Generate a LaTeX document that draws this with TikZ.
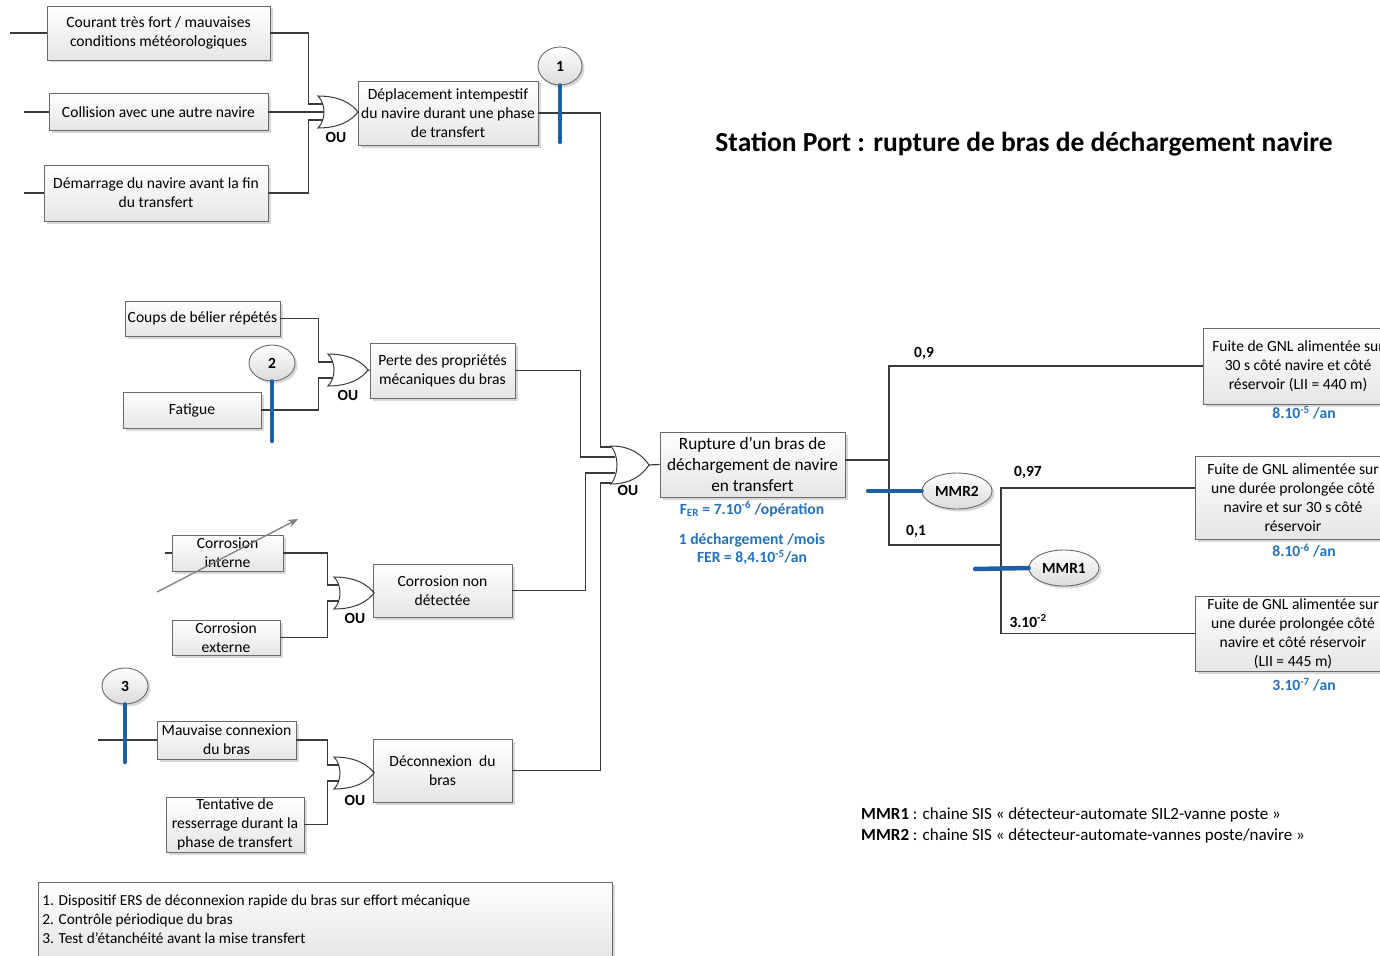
\documentclass[tikz,border=0pt]{standalone}
\usepackage{fontspec}
\setmainfont{Carlito}
\usetikzlibrary{shapes.geometric,shadows,arrows.meta}

\definecolor{wirec}{HTML}{3A3A3A}
\definecolor{boxline}{HTML}{6A6A6A}
\definecolor{barblue}{HTML}{1F5FA5}
\definecolor{txtblue}{HTML}{2671B8}

\tikzset{
  wire/.style={draw=wirec, line width=1.2pt},
  softshadow/.style={drop shadow={shadow xshift=2.5pt, shadow yshift=-2.5pt, fill=black!35, opacity=0.45}},
  ev/.style={draw=boxline, line width=0.9pt, top color=white, bottom color=black!10,
    softshadow, align=center, inner sep=0pt, font=\fontsize{15.6}{19}\selectfont},
  disc/.style={ellipse, draw=boxline, line width=0.9pt, top color=white, bottom color=black!14,
    softshadow, inner sep=0pt, font=\fontsize{15.5}{18}\selectfont\bfseries},
  gatest/.style={draw=wirec, fill=white, line width=1pt},
  barrier/.style={draw=barblue, line width=4.5pt, line cap=round},
  oulbl/.style={font=\fontsize{15.5}{18}\selectfont\bfseries, inner sep=0pt},
  lbl/.style={font=\fontsize{15.5}{18}\selectfont\bfseries, inner sep=0pt},
  blu/.style={text=txtblue, font=\fontsize{15.6}{18}\selectfont\bfseries, inner sep=0pt, align=center},
  % OR gate with three input points, 40 x 32
  orgate/.pic={
    \draw[gatest] (-20,-16) .. controls (2,-16) and (14,-8) .. (20,0)
      .. controls (14,8) and (2,16) .. (-20,16)
      .. controls (-12,8) and (-12,-8) .. (-20,-16) -- cycle;
    \coordinate (-in1) at (-15.2,-8);
    \coordinate (-in2) at (-14,0);
    \coordinate (-in3) at (-15.2,8);
    \coordinate (-out) at (20,0);
  },
  % OR gate with four input points, 38 x 38
  orgatefour/.pic={
    \draw[gatest] (-19,-19) .. controls (2,-19) and (13,-9) .. (19,0)
      .. controls (13,9) and (2,19) .. (-19,19)
      .. controls (-11,9) and (-11,-9) .. (-19,-19) -- cycle;
    \coordinate (-in1) at (-18.6,-18);
    \coordinate (-in2) at (-14.8,-8);
    \coordinate (-in3) at (-14.8,8);
    \coordinate (-in4) at (-18.6,18);
    \coordinate (-out) at (19,0);
  },
}

\begin{document}
\begin{tikzpicture}[x=1pt, y=-1pt]
\useasboundingbox (0,0) rectangle (1380,955);
\clip (0,0) rectangle (1380,955);

% ---------- title ----------
\node[font=\fontsize{27.5}{32}\selectfont\bfseries, inner sep=0pt] (title) at (1024,144)
  {Station Port : rupture de bras de déchargement navire};

% ---------- basic events and intermediate events ----------
\node[ev, minimum width=223, minimum height=54] (A) at (158.5,33) {Courant très fort / mauvaises\\conditions météorologiques};
\node[ev, minimum width=219, minimum height=37] (B) at (158.5,112) {Collision avec une autre navire};
\node[ev, minimum width=224, minimum height=56] (C) at (156,193) {Démarrage du navire avant la fin\\du transfert};
\node[ev, minimum width=180, minimum height=64] (D) at (448,113) {Déplacement intempestif\\du navire durant une phase\\de transfert};

\node[ev, minimum width=155, minimum height=35] (E) at (202.5,318.5) {Coups de bélier répétés};
\node[ev, minimum width=138, minimum height=36] (F) at (192,410) {Fatigue};
\node[ev, minimum width=145, minimum height=55] (G) at (442.5,370.5) {Perte des propriétés\\mécaniques du bras};

\node[ev, minimum width=111, minimum height=36] (H) at (227.5,553) {Corrosion\\interne};
\node[ev, minimum width=108, minimum height=35] (I) at (226,637.5) {Corrosion\\externe};
\node[ev, minimum width=139, minimum height=53] (J) at (442.5,590.5) {Corrosion non\\détectée};

\node[ev, minimum width=139, minimum height=38] (K) at (226.5,740) {Mauvaise connexion\\du bras};
\node[ev, minimum width=138, minimum height=55] (L) at (235,824.5) {Tentative de\\resserrage durant la\\phase de transfert};
\node[ev, minimum width=139, minimum height=63] (M) at (442.5,770.5) {Déconnexion~ du\\bras};

\node[ev, minimum width=185, minimum height=65, font=\fontsize{17.3}{21}\selectfont] (N) at (752.5,464.5)
  {Rupture d’un bras de\\déchargement de navire\\en transfert};

% ---------- consequences ----------
\node[ev, minimum width=190, minimum height=76] (O) at (1298,366) {Fuite de GNL alimentée sur\\30 s côté navire et côté\\réservoir (LII = 440 m)};
\node[ev, minimum width=196, minimum height=83] (P) at (1293,497.5) {Fuite de GNL alimentée sur\\une durée prolongée côté\\navire et sur 30 s côté\\réservoir};
\node[ev, minimum width=196, minimum height=75] (Q) at (1293,633.5) {Fuite de GNL alimentée sur\\une durée prolongée côté\\navire et côté réservoir\\(LII = 445 m)};

% ---------- OR gates ----------
\pic (g1) at (338,112) {orgate};
\pic (g2) at (348,370) {orgate};
\pic (g3) at (354,593) {orgate};
\pic (g4) at (354,773) {orgate};
\pic (g5) at (630,465) {orgatefour};

\node[oulbl] (ou1) at (336,137) {OU};
\node[oulbl] (ou2) at (348,395) {OU};
\node[oulbl] (ou3) at (355,618) {OU};
\node[oulbl] (ou4) at (355,800) {OU};
\node[oulbl] (ou5) at (628,490) {OU};

% ---------- free ends of the input stubs ----------
\coordinate (a0) at (10,33);
\coordinate (b0) at (24,112);
\coordinate (c0) at (24,193);
\coordinate (h0) at (165,553);
\coordinate (k0) at (98,740);

% ---------- wiring ----------
\draw[wire] (a0) -- (A.west);
\draw[wire] (b0) -- (B.west);
\draw[wire] (c0) -- (C.west);
\draw[wire] (h0) -- (H.west);
\draw[wire] (k0) -- (K.west);

\draw[wire] (A.east) -- ++(38,0) |- (g1-in1);
\draw[wire] (B.east) -- (g1-in2);
\draw[wire] (C.east) -- ++(40,0) |- (g1-in3);
\draw[wire] (g1-out) -- (D.west);

\draw[wire] (E.east) -- ++(38,0) |- (g2-in1);
\draw[wire] (F.east) -- ++(57,0) |- (g2-in3);
\draw[wire] (g2-out) -- (G.west);

\draw[wire] (H.east) -- ++(44,0) |- (g3-in1);
\draw[wire] (I.east) -- ++(47,0) |- (g3-in3);
\draw[wire] (g3-out) -- (J.west);

\draw[wire] (K.east) -- ++(31,0) |- (g4-in1);
\draw[wire] (L.east) -- ++(23,0) |- (g4-in3);
\draw[wire] (g4-out) -- (M.west);

\draw[wire] (D.east) -- ++(62,0) |- (g5-in1);
\draw[wire] (G.east) -- ++(65,0) |- (g5-in2);
\draw[wire] (J.east) -- ++(73,0) |- (g5-in3);
\draw[wire] (M.east) -- ++(88,0) |- (g5-in4);
\draw[wire] (g5-out) -- (N.west);

% ---------- event tree ----------
\coordinate (j1) at (889,460);
\coordinate (j2) at (1001,545);
\draw[wire] (N.east |- j1) -- (j1) |- (O.west);
\draw[wire] (j1) |- (j2);
\draw[wire] (j2) |- ([yshift=9.5pt]P.west);
\draw[wire] (j2) |- (Q.west);

\node[lbl] (p09) at (924,353) {0,9};
\node[lbl] (p01) at (916,531) {0,1};
\node[lbl] (p097) at (1028,472) {0,97};
\node[lbl] (p3e2) at (1028,621) {3.10\textsuperscript{-2}};

% ---------- frequencies ----------
\node[blu] (fer1) at (752,509) {F\textsubscript{ER} = 7.10\textsuperscript{-6} /opération};
\node[blu] (fer2) at (752,549) {1 déchargement /mois\\FER = 8,4.10\textsuperscript{-5}/an};
\node[blu] (fO) at (1304,413) {8.10\textsuperscript{-5} /an};
\node[blu] (fP) at (1304,551) {8.10\textsuperscript{-6} /an};
\node[blu] (fQ) at (1304,685) {3.10\textsuperscript{-7} /an};

% ---------- crossed-out arrow over internal corrosion ----------
\coordinate (ar0) at (157,592);
\coordinate (ar1) at (298,519);
\draw[draw=black!50, line width=1.3pt, -{Stealth[length=10pt, width=8pt]}] (ar0) -- (ar1);

% ---------- safety barriers ----------
\node[disc, minimum width=44, minimum height=38] (c1) at (560,66) {1};
\node[disc, minimum width=46, minimum height=36] (c2) at (272,363) {2};
\node[disc, minimum width=46, minimum height=36] (c3) at (125,686) {3};
\node[disc, minimum width=70, minimum height=36] (mmr2) at (957,491) {MMR2};
\node[disc, minimum width=70, minimum height=36] (mmr1) at (1064,568) {MMR1};

\coordinate (c1end) at (560,142);
\coordinate (c2end) at (272,441);
\coordinate (c3end) at (125,762);
\coordinate (m2end) at (868,491);
\coordinate (m1end) at (975,569);
\draw[barrier] (c1.south) -- (c1end);
\draw[barrier] (c2.south) -- (c2end);
\draw[barrier] (c3.south) -- (c3end);
\draw[barrier] (mmr2.west) -- (m2end);
\draw[barrier] (mmr1.west) -- (m1end);

% ---------- legends ----------
\node[anchor=west, align=left, inner sep=0pt, font=\fontsize{17}{21}\selectfont] (mmrkey) at (861,825.5)
  {\textbf{MMR1} : chaine SIS « détecteur-automate SIL2-vanne poste »\\
   \textbf{MMR2} : chaine SIS « détecteur-automate-vannes poste/navire »};

\node[ev, anchor=north west, minimum width=574, minimum height=74, align=left,
      font=\fontsize{15.3}{19}\selectfont] (notes) at (38,882)
  {\parbox{566pt}{1. Dispositif ERS de déconnexion rapide du bras sur effort mécanique\\
   2. Contrôle périodique du bras\\
   3. Test d’étanchéité avant la mise transfert}};
\end{tikzpicture}
\end{document}
